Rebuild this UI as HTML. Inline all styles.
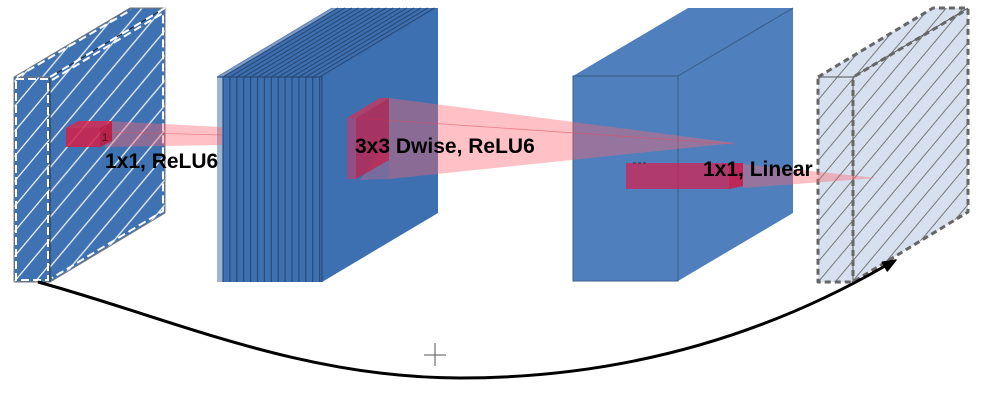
<!DOCTYPE html>
<html><head><meta charset="utf-8"><style>
html,body{margin:0;padding:0;background:#fff;}
svg{display:block;}
text{font-family:"Liberation Sans",Arial,sans-serif;font-weight:bold;}
</style></head><body>
<svg width="986" height="402" viewBox="0 0 986 402" xmlns="http://www.w3.org/2000/svg">
<defs>
<pattern id="hw" width="16" height="16" patternUnits="userSpaceOnUse" patternTransform="rotate(40)">
<rect x="0" y="0" width="16" height="16" fill="#3f72b2"/>
<line x1="2" y1="0" x2="2" y2="16" stroke="#ffffff" stroke-width="1.3" opacity="0.9"/>
</pattern>
<pattern id="hg" width="13" height="13" patternUnits="userSpaceOnUse" patternTransform="rotate(40)">
<rect x="0" y="0" width="13" height="13" fill="#d7e0ee"/>
<line x1="2" y1="0" x2="2" y2="13" stroke="#777" stroke-width="1"/>
</pattern>
</defs>

<!-- LEFT SLAB -->
<g>
<polygon points="14,77 130,8 165,8 165,213 50,282 14,282" fill="#3f72b2"/>
<polygon points="50,77 165,8 165,213 50,282" fill="url(#hw)"/>
<polygon points="14,77 130,8 165,8 50,77" fill="url(#hw)"/>
<svg x="14" y="77" width="36" height="205" overflow="hidden">
<rect x="0" y="0" width="36" height="205" fill="#3f72b2"/>
<g stroke="#ffffff" stroke-width="1.3" opacity="0.9">
<line x1="0" y1="5" x2="36" y2="-38"/>
<line x1="0" y1="30" x2="36" y2="-13"/>
<line x1="0" y1="55" x2="36" y2="12"/>
<line x1="0" y1="80" x2="36" y2="37"/>
<line x1="0" y1="105" x2="36" y2="62"/>
<line x1="0" y1="130" x2="36" y2="87"/>
<line x1="0" y1="155" x2="36" y2="112"/>
<line x1="0" y1="180" x2="36" y2="137"/>
<line x1="0" y1="205" x2="36" y2="162"/>
<line x1="0" y1="230" x2="36" y2="187"/>
<line x1="0" y1="255" x2="36" y2="212"/>
</g>
</svg>
<polygon points="14,77 130,8 165,8 165,213 50,282 14,282" fill="none" stroke="#777" stroke-width="1"/>
<line x1="50" y1="77" x2="50" y2="282" stroke="#333" stroke-width="1"/>
<line x1="14" y1="77" x2="50" y2="77" stroke="#777" stroke-width="1"/>
<polyline points="16,79 48,79 48,280 16,280 16,79" fill="none" stroke="#fff" stroke-width="2" stroke-dasharray="8,4"/>
<polyline points="52,80 163,13 163,211 52,278" fill="none" stroke="#fff" stroke-width="2" stroke-dasharray="8,4"/>
<line x1="50" y1="77" x2="165" y2="8" stroke="#222" stroke-width="1"/>
<line x1="50" y1="77" x2="165" y2="8" stroke="#fff" stroke-width="2" stroke-dasharray="8,6"/>
<line x1="17" y1="77" x2="131" y2="10" stroke="#fff" stroke-width="2" stroke-dasharray="8,4"/>
</g>

<!-- SECOND BLOCK (stacked slices) -->
<g>
<polygon points="217,77 332,8 438,8 438,213 322,282 217,282" fill="#3d70b0"/>
<polygon points="217,77 223,77 223,282 217,282" fill="#9fb5d6"/>
<polygon points="217,77 223,77 338,8 332,8" fill="#7f9dc8"/>
<g stroke="#2a4a78" stroke-width="1.2">
<line x1="223" y1="77" x2="223" y2="282"/><line x1="223" y1="77" x2="338" y2="8"/>
<line x1="229.9" y1="77" x2="229.9" y2="282"/><line x1="229.9" y1="77" x2="344.9" y2="8"/>
<line x1="236.8" y1="77" x2="236.8" y2="282"/><line x1="236.8" y1="77" x2="351.8" y2="8"/>
<line x1="243.7" y1="77" x2="243.7" y2="282"/><line x1="243.7" y1="77" x2="358.7" y2="8"/>
<line x1="250.6" y1="77" x2="250.6" y2="282"/><line x1="250.6" y1="77" x2="365.6" y2="8"/>
<line x1="257.5" y1="77" x2="257.5" y2="282"/><line x1="257.5" y1="77" x2="372.5" y2="8"/>
<line x1="264.4" y1="77" x2="264.4" y2="282"/><line x1="264.4" y1="77" x2="379.4" y2="8"/>
<line x1="271.3" y1="77" x2="271.3" y2="282"/><line x1="271.3" y1="77" x2="386.3" y2="8"/>
<line x1="278.2" y1="77" x2="278.2" y2="282"/><line x1="278.2" y1="77" x2="393.2" y2="8"/>
<line x1="285.1" y1="77" x2="285.1" y2="282"/><line x1="285.1" y1="77" x2="400.1" y2="8"/>
<line x1="292" y1="77" x2="292" y2="282"/><line x1="292" y1="77" x2="407" y2="8"/>
<line x1="298.9" y1="77" x2="298.9" y2="282"/><line x1="298.9" y1="77" x2="413.9" y2="8"/>
<line x1="305.8" y1="77" x2="305.8" y2="282"/><line x1="305.8" y1="77" x2="420.8" y2="8"/>
<line x1="312.7" y1="77" x2="312.7" y2="282"/><line x1="312.7" y1="77" x2="427.7" y2="8"/>
<line x1="319.6" y1="77" x2="319.6" y2="282"/><line x1="319.6" y1="77" x2="434.6" y2="8"/>
<line x1="322" y1="77" x2="322" y2="282"/>
<line x1="217" y1="77" x2="322" y2="77"/>
</g>
<line x1="217" y1="77" x2="332" y2="8" stroke="#5a7fb5" stroke-width="1"/>
</g>

<!-- THIRD BLOCK -->
<g>
<polygon points="573,76 688,8 793,8 793,213 678,281 573,281" fill="#4f80bd"/>
<polygon points="573,76 678,76 678,281 573,281" fill="none" stroke="#3a5a88" stroke-width="1"/>
<line x1="678" y1="76" x2="793" y2="8" stroke="#3a5a88" stroke-width="1"/>
</g>

<!-- FOURTH SLAB -->
<g>
<polygon points="818,77 933,8 968,8 968,212 853,282 818,282" fill="#d7e0ee"/>
<polygon points="818,77 933,8 968,8 968,212 853,282 818,282" fill="url(#hg)"/>
<line x1="853" y1="77" x2="968" y2="8" stroke="#555" stroke-width="1"/>
<line x1="853" y1="77" x2="853" y2="282" stroke="#555" stroke-width="1"/>
<line x1="818" y1="77" x2="853" y2="77" stroke="#555" stroke-width="1"/>
<polygon points="818,77 933,8 968,8 968,212 853,282 818,282" fill="none" stroke="#666" stroke-width="3" stroke-dasharray="6,4" stroke-linejoin="round"/>
<line x1="853" y1="80" x2="853" y2="280" stroke="#666" stroke-width="3" stroke-dasharray="6,4"/>
<line x1="855" y1="76" x2="966" y2="10" stroke="#666" stroke-width="3" stroke-dasharray="6,4"/>
</g>

<!-- RED BOX 1 + BEAM -->
<polygon points="105,121 222,127 222,145 105,147" fill="rgb(255,100,110)" fill-opacity="0.4"/>
<line x1="105" y1="132" x2="222" y2="135" stroke="#e05060" stroke-width="0.7" opacity="0.6"/>
<polygon points="66,128 100,128 112,121 78,121" fill="#d62a50" fill-opacity="0.85"/>
<polygon points="66,128 100,128 100,147 66,147" fill="#d42048" fill-opacity="0.85"/>
<polygon points="100,128 112,121 112,141 100,147" fill="#c01840" fill-opacity="0.9"/>
<text x="102" y="141" font-size="11" fill="#4a0c1a" style="font-weight:normal">1</text>

<!-- RED BOX 2 + BEAM -->
<polygon points="389,98 735,143 389,179" fill="rgb(255,100,110)" fill-opacity="0.4"/>
<polygon points="389,179 360,180 389,140" fill="rgb(255,100,110)" fill-opacity="0.3"/>
<line x1="356" y1="118" x2="735" y2="144" stroke="#e05060" stroke-width="0.8" opacity="0.6"/>
<polygon points="356,118 389,98 389,160 356,179" fill="#c8204a" fill-opacity="0.75"/>
<polygon points="347,118 380,98 389,98 356,118" fill="#d43058" fill-opacity="0.75"/>
<polygon points="347,118 356,118 356,179 347,179" fill="#9c4a80" fill-opacity="0.9"/>

<!-- RED BOX 3 + BEAM -->
<polygon points="743,164 877,178 743,188" fill="rgb(255,100,110)" fill-opacity="0.4"/>
<polygon points="626,163 729,163 729,189 626,189" fill="#c8285a" fill-opacity="0.8"/>
<polygon points="729,163 743,163 743,186 729,189" fill="#d01848" fill-opacity="0.85"/>
<line x1="633" y1="163" x2="648" y2="163" stroke="#333" stroke-width="1" stroke-dasharray="3,2"/>

<!-- LABELS -->
<text x="105" y="168" font-size="21" fill="#000">1x1, ReLU6</text>
<text x="355" y="153" font-size="21" fill="#000">3x3 Dwise, ReLU6</text>
<text x="703" y="176" font-size="21" fill="#000">1x1, Linear</text>

<!-- RESIDUAL ARROW -->
<path d="M38,282 C170,318 300,378 460,378 C620,378 760,338 885,266" fill="none" stroke="#000" stroke-width="3"/>
<polygon points="896,260 887.3,270.9 882.3,262.3" fill="#000" stroke="#000" stroke-width="1.5" stroke-linejoin="round"/>

<!-- PLUS -->
<line x1="424" y1="355" x2="446" y2="355" stroke="#555" stroke-width="1"/>
<line x1="435" y1="343" x2="435" y2="366" stroke="#555" stroke-width="1"/>
</svg>
</body></html>
